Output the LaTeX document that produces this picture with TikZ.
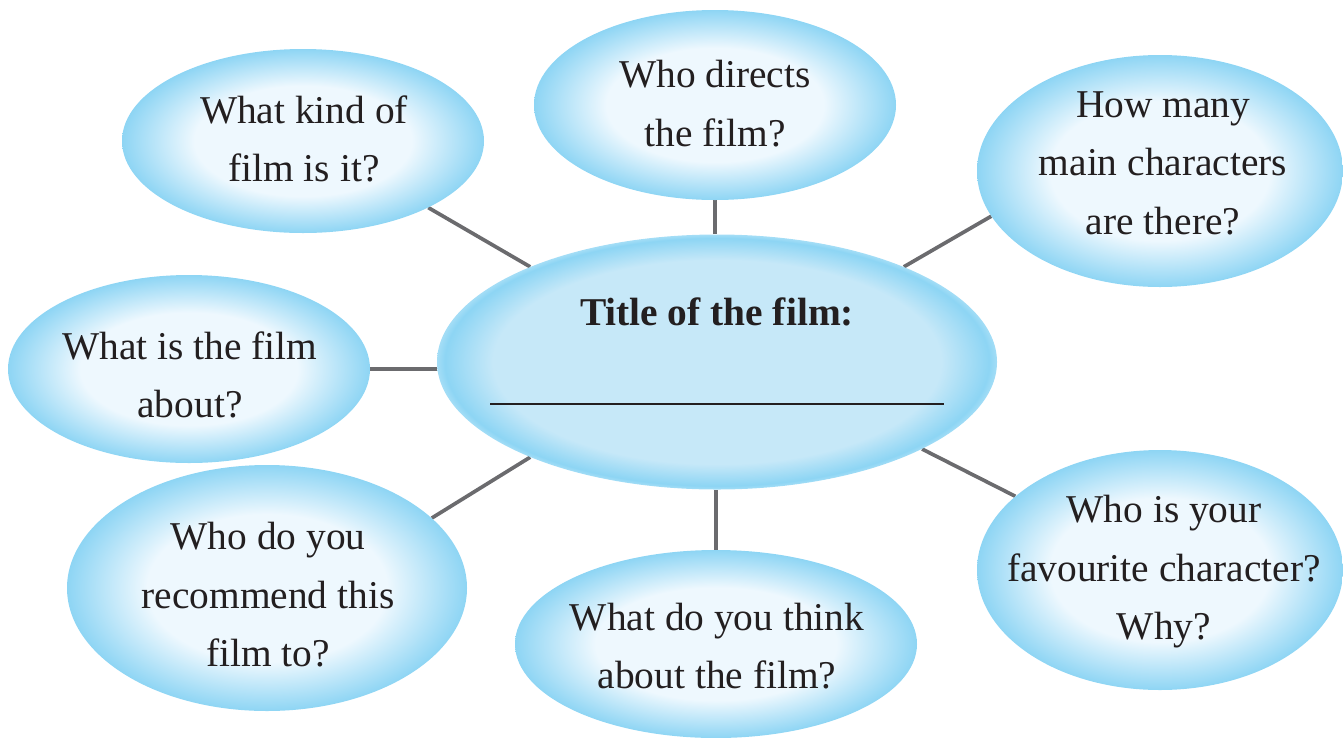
\documentclass[tikz,border=0pt]{standalone}
\usepackage{fontspec}
\setmainfont{Liberation Serif}
\usetikzlibrary{shapes.geometric,backgrounds,calc}
\definecolor{bubin}{HTML}{EEF8FE}
\definecolor{bubout}{HTML}{8ED5F4}
\definecolor{cenfill}{HTML}{C6E8F8}
\definecolor{cenring}{HTML}{8DD5F4}
\definecolor{lin}{HTML}{6B6B6E}
\definecolor{txt}{HTML}{231F20}
\pgfdeclareradialshading{bubshade}{\pgfpoint{0bp}{0bp}}{color(0bp)=(bubin); color(15bp)=(bubin); color(25bp)=(bubout); color(50bp)=(bubout)}
\pgfdeclareradialshading{censhade}{\pgfpoint{0bp}{0bp}}{color(0bp)=(cenfill); color(20bp)=(cenfill); color(24.3bp)=(cenring); color(25bp)=(cenring!80!white); color(50bp)=(cenring!80!white)}
\newcommand\qfont{\fontsize{39.4}{58.5}\selectfont}
\tikzset{
  bub/.style={ellipse, shade, shading=bubshade, inner sep=0pt, draw=none},
  cen/.style={ellipse, shade, shading=censhade, inner sep=0pt, draw=none},
  qtext/.style={align=center, text=txt, font=\qfont, inner sep=0pt},
  conn/.style={draw=lin, line width=3.7pt},
}
\begin{document}
\begin{tikzpicture}[x=1pt,y=-1pt]
\useasboundingbox (0,0) rectangle (1343,737);
\clip (0,0) rectangle (1343,737);
% bubbles
\node[cen, minimum width=560pt, minimum height=255pt] (c) at (717,362) {};
\node[bub, minimum width=362pt, minimum height=184pt] (tl) at (303,141) {};
\node[bub, minimum width=362pt, minimum height=190pt] (t) at (715,105) {};
\node[bub, minimum width=366pt, minimum height=232pt] (tr) at (1160,171) {};
\node[bub, minimum width=362pt, minimum height=188pt] (l) at (189,369) {};
\node[bub, minimum width=400pt, minimum height=246pt] (bl) at (267,588) {};
\node[bub, minimum width=402pt, minimum height=188pt] (b) at (716,644) {};
\node[bub, minimum width=366pt, minimum height=240pt] (br) at (1160,570) {};
% connectors
\begin{scope}[on background layer]
\draw[conn] (tl.-28) -- (c.153.7);
\draw[conn] (t.south) -- (t.south |- c.north);
\draw[conn] (tr.-165) -- (c.27.3);
\draw[conn] (l.east) -- (c.west |- l.east);
\draw[conn] (bl.23.3) -- (c.207.3);
\draw[conn] (b.north) -- (b.north |- c.south);
\draw[conn] (c.-23.7) -- (br.153.6);
\end{scope}
% texts
\node[qtext, font=\qfont\bfseries, anchor=base] (title) at (717,325) {Title of the film:};
\draw[txt, line width=2.5pt] ($(c.center)+(-227,42)$) coordinate (ul1) -- ($(c.center)+(227,42)$) coordinate (ul2);
\node[qtext] (tltxt) at (304,139) {What kind of\\film is it?};
\node[qtext] (ttxt) at (715,103.5) {Who directs\\the film?};
\node[qtext] (trtxt) at (1163,163) {How many\\main characters\\are there?};
\node[qtext] (ltxt) at (190,375) {What is the film\\about?};
\node[qtext] (bltxt) at (268,595) {Who do you\\recommend this\\film to?};
\node[qtext] (btxt) at (717,646) {What do you think\\about the film?};
\node[qtext] (brtxt) at (1164,572) {Who is your\\favourite character?\\Why?};
\end{tikzpicture}
\end{document}
